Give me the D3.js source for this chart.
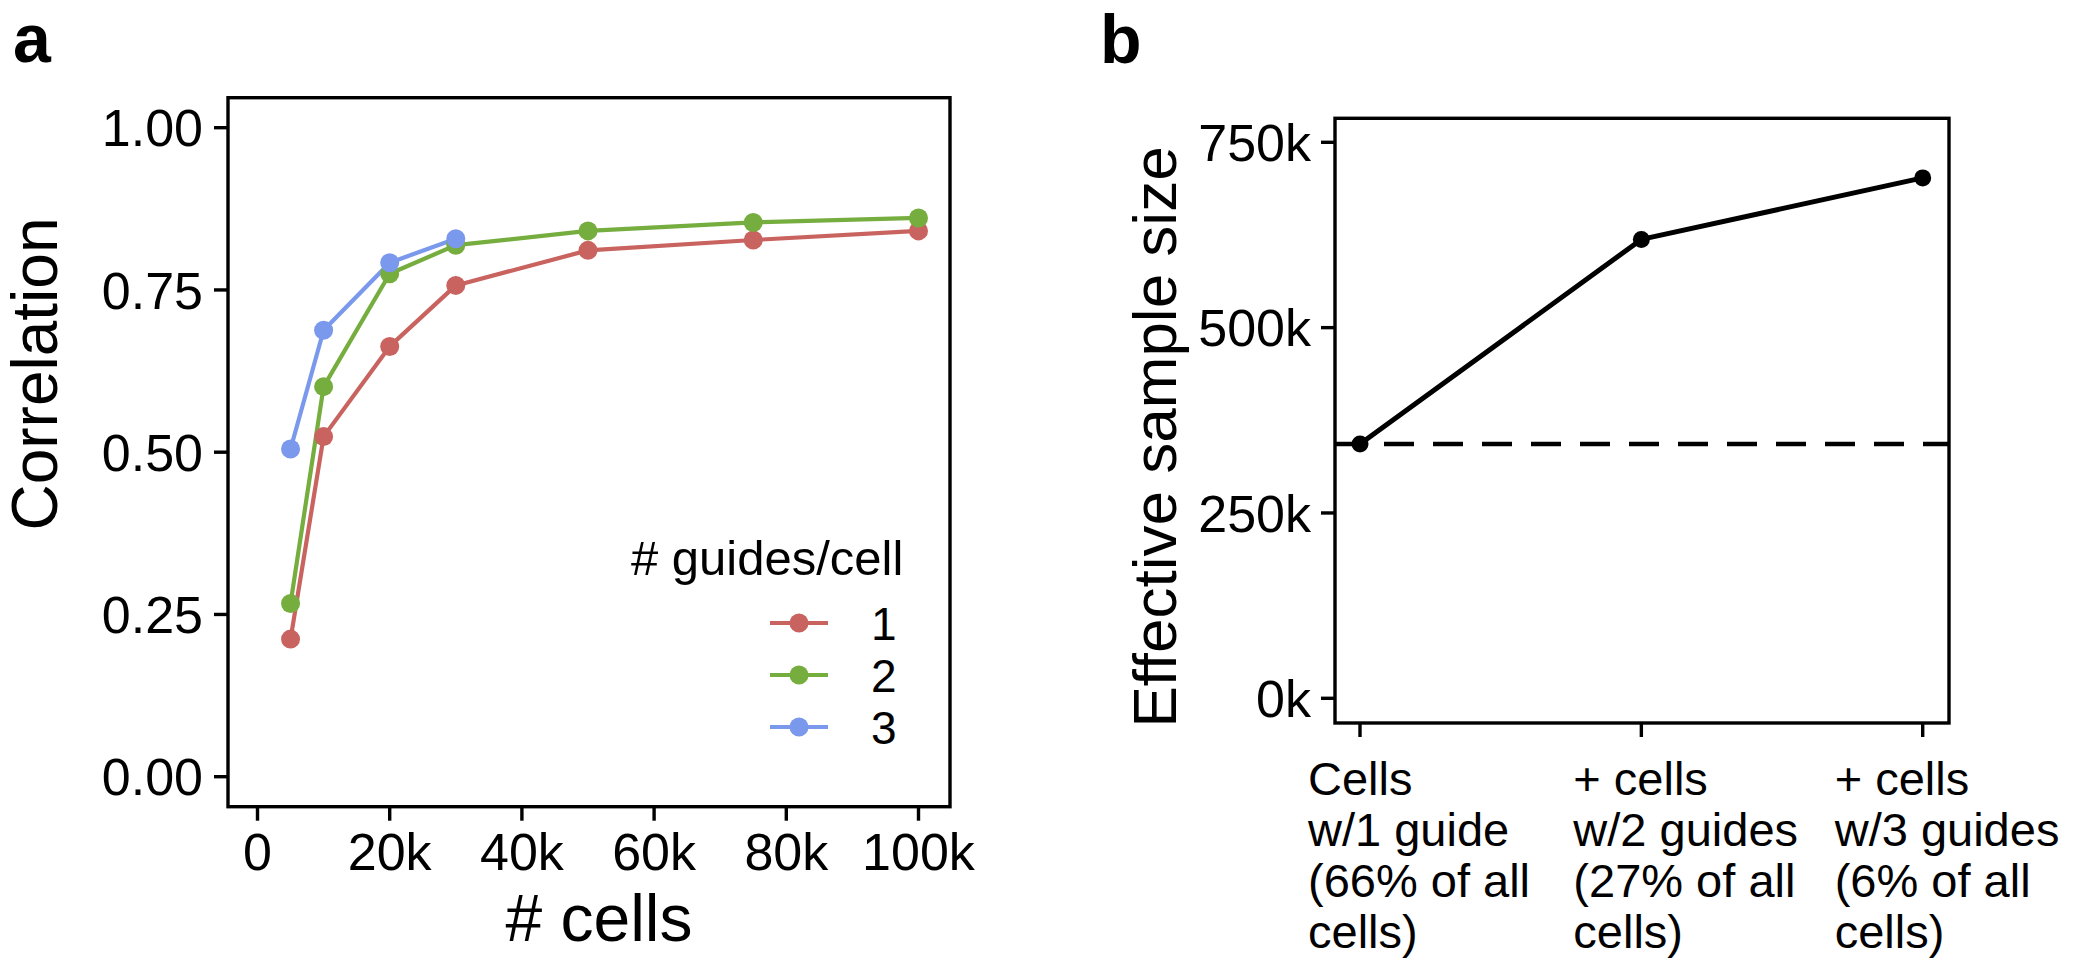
<!DOCTYPE html>
<html>
<head>
<meta charset="utf-8">
<script src="https://cdn.jsdelivr.net/npm/d3@7/dist/d3.min.js"></script>
<style>
  html, body { margin: 0; padding: 0; background: #fff; }
  svg { display: block; }
  text { font-family: "Liberation Sans", Arial, Helvetica, sans-serif; fill: #000; }
</style>
</head>
<body>
<svg id="chart" width="2100" height="980"></svg>
<script>
// ---------- data ----------
const cellCounts = [5000, 10000, 20000, 30000, 50000, 75000, 100000];
const corrGuide1 = [0.212, 0.524, 0.663, 0.757, 0.811, 0.827, 0.841];
const corrGuide2 = [0.267, 0.601, 0.775, 0.819, 0.841, 0.854, 0.861];
const corrGuide3 = [0.505, 0.688, 0.792, 0.829];
const guideLabels = ["1", "2", "3"];
const guideColors = ["#c9635f", "#76ad3f", "#7a98ec"];
const xTicksA = [0, 20000, 40000, 60000, 80000, 100000];
const xTickLabelsA = ["0", "20k", "40k", "60k", "80k", "100k"];
const yTicksA = [0, 0.25, 0.5, 0.75, 1.0];
const yTickLabelsA = ["0.00", "0.25", "0.50", "0.75", "1.00"];

const categoriesB = ["g1", "g2", "g3"];
const categoryLabelsB = [
  ["Cells", "w/1 guide", "(66% of all", "cells)"],
  ["+ cells", "w/2 guides", "(27% of all", "cells)"],
  ["+ cells", "w/3 guides", "(6% of all", "cells)"]
];
const effectiveSize = [343000, 619000, 702000];
const yTicksB = [0, 250000, 500000, 750000];
const yTickLabelsB = ["0k", "250k", "500k", "750k"];

// ---------- layout ----------
const svg = d3.select("#chart");
const LW = 3.4;

function frame(g, x0, x1, y0, y1) {
  g.append("rect").attr("x", x0).attr("y", y0).attr("width", x1 - x0).attr("height", y1 - y0)
    .attr("fill", "none").attr("stroke", "#000").attr("stroke-width", LW);
}

// ===== Panel a =====
const A = { left: 228, right: 950, top: 97.7, bottom: 806.7 };
const xA = d3.scaleLinear().domain([0, 100000]).range([257.5, 918.5]);
const yA = d3.scaleLinear().domain([0, 1]).range([776.7, 127.7]);
const gA = svg.append("g");
frame(gA, A.left, A.right, A.top, A.bottom);

// y ticks
gA.selectAll(".yta").data(yTicksA).enter().append("line")
  .attr("x1", A.left - 14).attr("x2", A.left).attr("y1", d => yA(d)).attr("y2", d => yA(d))
  .attr("stroke", "#000").attr("stroke-width", LW);
gA.selectAll(".ytla").data(yTicksA).enter().append("text")
  .attr("x", 203).attr("y", d => yA(d)).attr("dy", "0.36em")
  .attr("text-anchor", "end").attr("font-size", 52).text((d, i) => yTickLabelsA[i]);
// x ticks
gA.selectAll(".xta").data(xTicksA).enter().append("line")
  .attr("x1", d => xA(d)).attr("x2", d => xA(d)).attr("y1", A.bottom).attr("y2", A.bottom + 14)
  .attr("stroke", "#000").attr("stroke-width", LW);
gA.selectAll(".xtla").data(xTicksA).enter().append("text")
  .attr("x", d => xA(d)).attr("y", 870)
  .attr("text-anchor", "middle").attr("font-size", 52).text((d, i) => xTickLabelsA[i]);
// axis titles
gA.append("text").attr("x", 599).attr("y", 941).attr("text-anchor", "middle")
  .attr("font-size", 66).text("# cells");
gA.append("text").attr("transform", "translate(57,374) rotate(-90)").attr("text-anchor", "middle")
  .attr("font-size", 64).text("Correlation");
// panel letter
svg.append("text").attr("x", 13).attr("y", 62).attr("font-size", 68).attr("font-weight", "bold").text("a");

// series
const seriesA = [corrGuide1, corrGuide2, corrGuide3].map((vals, i) => ({
  name: guideLabels[i], color: guideColors[i],
  pts: vals.map((v, j) => ({ x: cellCounts[j], y: v }))
}));
const lineA = d3.line().x(d => xA(d.x)).y(d => yA(d.y));
seriesA.forEach(s => {
  gA.append("path").attr("d", lineA(s.pts)).attr("fill", "none")
    .attr("stroke", s.color).attr("stroke-width", 4.2).attr("stroke-linejoin", "round");
});
seriesA.forEach(s => {
  gA.selectAll(null).data(s.pts).enter().append("circle")
    .attr("cx", d => xA(d.x)).attr("cy", d => yA(d.y)).attr("r", 9.5).attr("fill", s.color);
});

// legend
const leg = gA.append("g");
leg.append("text").attr("x", 631).attr("y", 575).attr("font-size", 49).text("# guides/cell");
guideLabels.forEach((lab, i) => {
  const cy = 623 + i * 52;
  leg.append("line").attr("x1", 770).attr("x2", 828).attr("y1", cy).attr("y2", cy)
    .attr("stroke", guideColors[i]).attr("stroke-width", 4.2);
  leg.append("circle").attr("cx", 799).attr("cy", cy).attr("r", 9.5).attr("fill", guideColors[i]);
  leg.append("text").attr("x", 871).attr("y", cy + 17).attr("font-size", 46).text(lab);
});

// ===== Panel b =====
const B = { left: 1335, right: 1949, top: 118.3, bottom: 723 };
const xB = d3.scalePoint().domain(categoriesB).range([1360, 1922.7]);
const yB = d3.scaleLinear().domain([0, 750000]).range([698.3, 142.3]);
const gB = svg.append("g");
frame(gB, B.left, B.right, B.top, B.bottom);

gB.selectAll(".ytb").data(yTicksB).enter().append("line")
  .attr("x1", B.left - 14).attr("x2", B.left).attr("y1", d => yB(d)).attr("y2", d => yB(d))
  .attr("stroke", "#000").attr("stroke-width", LW);
gB.selectAll(".ytlb").data(yTicksB).enter().append("text")
  .attr("x", 1311).attr("y", d => yB(d)).attr("dy", "0.36em")
  .attr("text-anchor", "end").attr("font-size", 52).text((d, i) => yTickLabelsB[i]);
gB.selectAll(".xtb").data(categoriesB).enter().append("line")
  .attr("x1", d => xB(d)).attr("x2", d => xB(d)).attr("y1", B.bottom).attr("y2", B.bottom + 14)
  .attr("stroke", "#000").attr("stroke-width", LW);
const labelShift = [-52, -68, -88];
categoriesB.forEach((c, i) => {
  const t = gB.append("text").attr("font-size", 47);
  categoryLabelsB[i].forEach((ln, k) => {
    t.append("tspan").attr("x", xB(c) + labelShift[i]).attr("y", 795 + k * 51).text(ln);
  });
});
gB.append("text").attr("transform", "translate(1176,437) rotate(-90)").attr("text-anchor", "middle")
  .attr("font-size", 62).text("Effective sample size");
svg.append("text").attr("x", 1100).attr("y", 63).attr("font-size", 68).attr("font-weight", "bold").text("b");

// dashed baseline at first value
gB.append("line").attr("x1", B.left).attr("x2", B.right)
  .attr("y1", yB(effectiveSize[0])).attr("y2", yB(effectiveSize[0]))
  .attr("stroke", "#000").attr("stroke-width", 4.5).attr("stroke-dasharray", "30,19");
const ptsB = categoriesB.map((c, i) => ({ c: c, v: effectiveSize[i] }));
gB.append("path").attr("d", d3.line().x(d => xB(d.c)).y(d => yB(d.v))(ptsB))
  .attr("fill", "none").attr("stroke", "#000").attr("stroke-width", 5).attr("stroke-linejoin", "round");
gB.selectAll(null).data(ptsB).enter().append("circle")
  .attr("cx", d => xB(d.c)).attr("cy", d => yB(d.v)).attr("r", 8.5).attr("fill", "#000");
</script>
</body>
</html>
